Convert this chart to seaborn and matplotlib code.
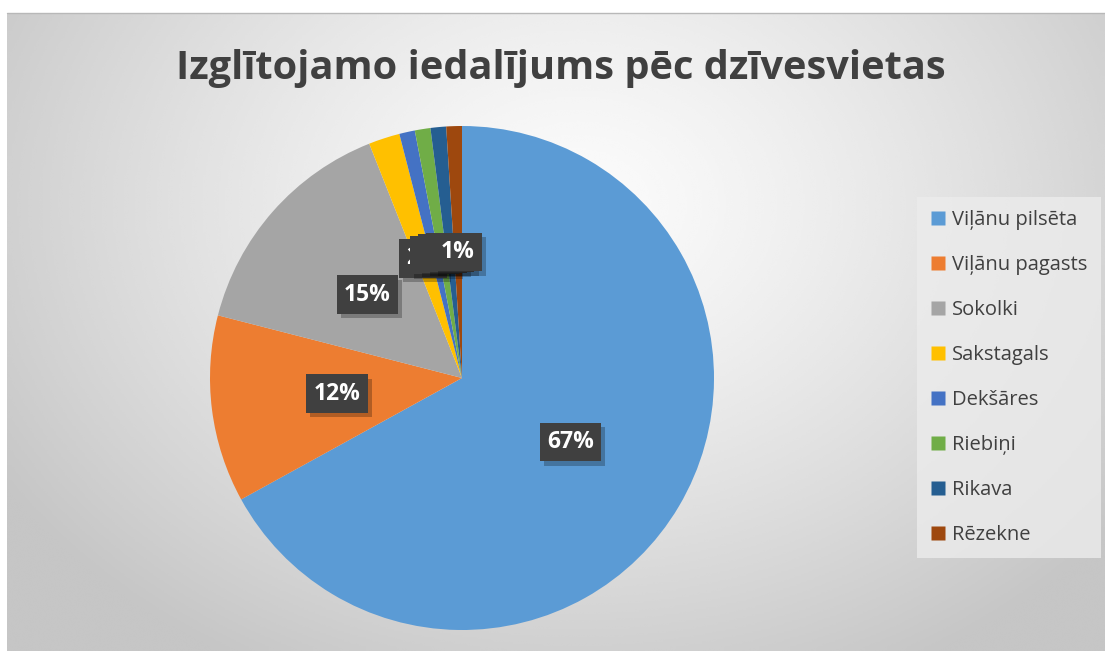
import numpy as np
import seaborn as sns
import matplotlib.pyplot as plt
from matplotlib.lines import Line2D
import matplotlib.patheffects as pe

# dati
vietas = ['Viļānu pilsēta', 'Viļānu pagasts', 'Sokolki', 'Sakstagals',
          'Dekšāres', 'Riebiņi', 'Rikava', 'Rēzekne']
skaits = [67, 12, 15, 2, 1, 1, 1, 1]
krasas = ['#5b9bd5', '#ed7d31', '#a5a5a5', '#ffc000',
          '#4472c4', '#70ad47', '#255e91', '#9e480e']
virsraksts = 'Izglītojamo iedalījums pēc dzīvesvietas'

sns.set_style('white')
plt.rcParams['font.family'] = ['Open Sans', 'DejaVu Sans']

W, H = 1105, 651
fig = plt.figure(figsize=(W / 100, H / 100), dpi=100, facecolor='white')

# fons ar radiālo gradientu
bg = fig.add_axes([7 / W, 0, 1 - 7 / W, 1 - 13 / H])
yy, xx = np.mgrid[0:1:300j, 0:1:500j]
r = np.sqrt((xx - 0.52) ** 2 + ((yy - 0.3) * 0.75) ** 2)
val = 0.985 - 0.21 * np.clip(r / 0.62, 0, 1) ** 1.3
bg.imshow(val, cmap='gray', vmin=0, vmax=1, aspect='auto',
          extent=(0, 1, 1, 0), interpolation='bicubic')
bg.set_axis_off()
fig.add_artist(plt.Line2D([7 / W, 1], [1 - 13 / H, 1 - 13 / H],
                          color='#b8b8b8', lw=1))

# pīrāga diagramma
cx, cy, rad = 462, 378, 252
ax = fig.add_axes([(cx - rad) / W, (H - cy - rad) / H, 2 * rad / W, 2 * rad / H])
wedges, _ = ax.pie(skaits, colors=krasas, startangle=90, counterclock=False,
                   radius=1, wedgeprops=dict(linewidth=0))
ax.set_xlim(-1, 1)
ax.set_ylim(-1, 1)
ax.set_axis_off()

kopa = sum(skaits)
for w, v in zip(wedges, skaits):
    mid = np.deg2rad((w.theta1 + w.theta2) / 2)
    x, y = 0.5 * np.cos(mid), 0.5 * np.sin(mid)
    t = ax.text(x, y, f'{100 * v / kopa:.0f}%', ha='center', va='center',
                fontsize=16.5, fontweight='bold', color='white',
                bbox=dict(boxstyle='square,pad=0.32', fc='#404040', ec='none'))
    t.get_bbox_patch().set_path_effects(
        [pe.SimplePatchShadow(offset=(3, -3), shadow_rgbFace='black', alpha=0.25),
         pe.Normal()])

# virsraksts
fig.text(561 / W, 1 - 69 / H, virsraksts, ha='center', va='center',
         fontsize=28.6, fontweight='bold', color='#404040')

# leģenda
handles = [Line2D([0], [0], marker='s', linestyle='none', markersize=10,
                  markerfacecolor=c, markeredgecolor='none') for c in krasas]
leg = fig.legend(handles, vietas, loc='upper left',
                 bbox_to_anchor=(917 / W, 1 - 197 / H), borderaxespad=0,
                 frameon=True, fancybox=False, fontsize=14.5,
                 labelspacing=1.24, handlelength=0.8, handletextpad=0.3,
                 borderpad=0.65, labelcolor='#404040')
leg.get_frame().set_facecolor('#ececec')
leg.get_frame().set_edgecolor('none')
leg.get_frame().set_alpha(0.8)

fig.savefig('out.png', dpi=100)
